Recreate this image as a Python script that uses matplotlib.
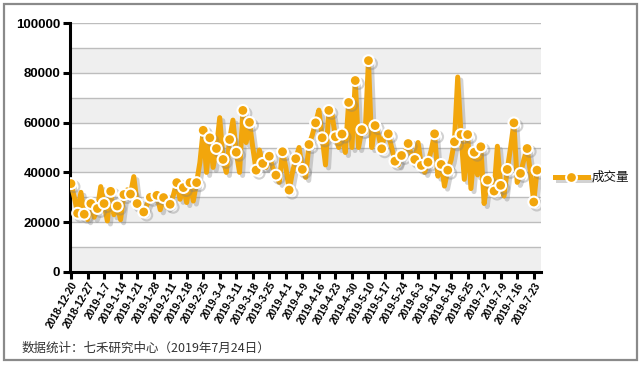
import matplotlib
matplotlib.use("Agg")
import matplotlib.pyplot as plt
import matplotlib.patheffects as pe
from matplotlib.patches import Rectangle
from matplotlib.lines import Line2D
import numpy as np

plt.rcParams['font.family'] = ['Liberation Sans', 'Noto Sans CJK SC', 'DejaVu Sans']

tick_labels = ["2018-12-20", "2018-12-27", "2019-1-7", "2019-1-14", "2019-1-21", "2019-1-28",
               "2019-2-11", "2019-2-18", "2019-2-25", "2019-3-4", "2019-3-11", "2019-3-18",
               "2019-3-25", "2019-4-1", "2019-4-9", "2019-4-16", "2019-4-23", "2019-4-30",
               "2019-5-10", "2019-5-17", "2019-5-24", "2019-6-3", "2019-6-11", "2019-6-18",
               "2019-6-25", "2019-7-2", "2019-7-9", "2019-7-16", "2019-7-23"]

volume = [35500, 30000, 23600, 32000, 23200, 21000, 27500, 22000, 25500, 34300,
          27500, 20500, 32400, 23000, 26500, 21000, 31100, 33000, 31300, 38300,
          27500, 25000, 24100, 27000, 30000, 29000, 30800, 25000, 29900, 26000,
          27200, 31000, 35900, 29200, 33900, 27900, 35900, 28500, 35900, 44000,
          56900, 40000, 53900, 42000, 49600, 62000, 45200, 40000, 53200, 61000,
          48100, 40000, 64900, 52000, 60100, 50000, 40900, 49000, 43600, 42000,
          46500, 42000, 38900, 36000, 48300, 42000, 32900, 40000, 45500, 50000,
          41200, 38000, 51200, 55000, 59900, 65000, 53900, 43000, 64900, 63000,
          54300, 50000, 55400, 48000, 68100, 50000, 76900, 50000, 57200, 56000,
          84900, 50000, 58800, 55000, 49500, 56000, 55500, 50000, 44500, 43000,
          46800, 48000, 51600, 47000, 45200, 52000, 42800, 40000, 44100, 49000,
          55500, 38500, 43200, 34500, 40900, 45000, 52300, 78300, 55200, 37200,
          55200, 33500, 48100, 39000, 50300, 27500, 36900, 37000, 32500, 50500,
          34800, 30500, 41200, 50000, 59900, 36000, 39600, 45000, 49600, 40000,
          28100, 40900]

series_name = "成交量"
source_note = "数据统计：七禾研究中心（2019年7月24日）"

W, H = 643, 365
fig = plt.figure(figsize=(W / 100, H / 100), dpi=100)
fig.patch.set_facecolor('white')

# outer border
fig.add_artist(Rectangle((4 / W, 5 / H), 633 / W, 356 / H, transform=fig.transFigure,
                         fill=False, edgecolor='#8a8a8a', linewidth=1.6))

ax = fig.add_axes([70 / W, (H - 272) / H, (541 - 70) / W, (272 - 23) / H])
n = len(volume)
x = np.arange(n)
ax.set_xlim(-0.3, 142.2)
ax.set_ylim(0, 100000)

# alternating bands
for lo in range(0, 100000, 20000):
    ax.axhspan(lo, lo + 10000, color='#efefef', zorder=0, lw=0)
for g in range(10000, 100001, 10000):
    ax.axhline(g, color='#bdbdbd', lw=1.0, zorder=1)

orange = '#F2A60C'
shadow = [pe.SimpleLineShadow(offset=(2.2, -2.2), shadow_color='#808080', alpha=0.35), pe.Normal()]
marks = list(range(0, n, 2)) + [n - 1]
ax.plot(x, volume, color=orange, lw=3.6, solid_joinstyle='round', zorder=3,
        marker='o', markevery=marks, markersize=7.8, markerfacecolor=orange,
        markeredgecolor='white', markeredgewidth=1.5, path_effects=shadow)

for s in ['top', 'right']:
    ax.spines[s].set_visible(False)
for s in ['left', 'bottom']:
    ax.spines[s].set_linewidth(2.2)
    ax.spines[s].set_color('black')

ax.set_yticks(range(0, 100001, 20000))
ax.set_yticklabels([str(v) for v in range(0, 100001, 20000)], fontsize=9.5, fontweight='bold')
ax.set_xticks(range(0, 5 * len(tick_labels), 5))
ax.set_xticklabels(tick_labels, rotation=60, ha='right', rotation_mode='anchor',
                   fontsize=7.4, fontweight='bold')
ax.tick_params(axis='both', length=5, width=2.2, color='black', pad=2)
ax.tick_params(axis='x', pad=1)

# legend
leg_y = (H - 177) / H
fig.add_artist(Line2D([555 / W, 588 / W], [leg_y, leg_y], transform=fig.transFigure,
                      color=orange, lw=3.6, path_effects=shadow))
fig.add_artist(Line2D([571 / W], [leg_y], transform=fig.transFigure, marker='o',
                      markersize=7.8, markerfacecolor=orange, markeredgecolor='white',
                      markeredgewidth=1.5, linestyle='none'))
fig.text(592 / W, leg_y, series_name, fontsize=9, va='center', ha='left',
         family=['Noto Sans CJK SC', 'DejaVu Sans'], color='#111111')

fig.text(22 / W, (H - 348) / H, source_note, fontsize=9, va='center', ha='left',
         family=['Noto Sans CJK SC', 'DejaVu Sans'], color='#333333')

fig.savefig('out.png', dpi=100, facecolor='white')
